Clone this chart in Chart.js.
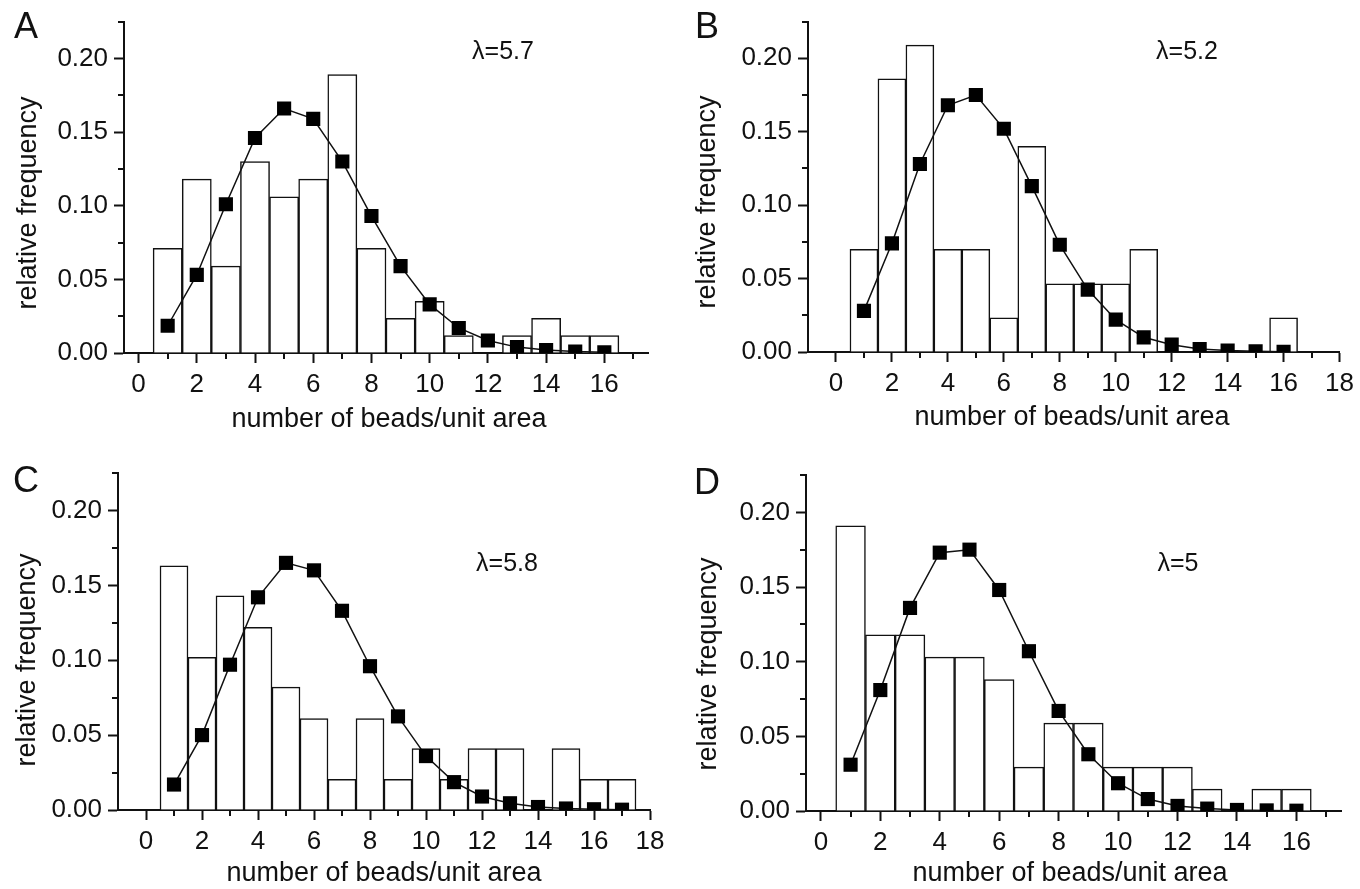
<!DOCTYPE html>
<html>
<head>
<meta charset="utf-8">
<script src="https://cdn.jsdelivr.net/npm/chart.js@4.4.0/dist/chart.umd.min.js"></script>
<style>
  body { margin: 0; background: #fff; }
  #fig { position: relative; width: 1360px; height: 889px; font-family: 'Liberation Sans', Arial, sans-serif; color: #111; }
  .panel { position: absolute; }
  .txt { position: absolute; white-space: nowrap; transform: translate(-50%, -50%); }
  .ytitle { transform: translate(-50%, -50%) rotate(-90deg); }
  .letter { font-size: 36px; line-height: 1; }
  .lam { font-size: 25px; }
  .axt { font-size: 27px; }
</style>
</head>
<body>
<div id="fig"></div>
<script>
// bins (number of beads per unit area)
const binsA = [1, 2, 3, 4, 5, 6, 7, 8, 9, 10, 11, 12, 13, 14, 15, 16];
const binsB = [1, 2, 3, 4, 5, 6, 7, 8, 9, 10, 11, 12, 13, 14, 15, 16];
const binsC = [1, 2, 3, 4, 5, 6, 7, 8, 9, 10, 11, 12, 13, 14, 15, 16, 17];
const binsD = [1, 2, 3, 4, 5, 6, 7, 8, 9, 10, 11, 12, 13, 14, 15, 16];

// observed relative frequency (histogram)
const histA = [0.071, 0.118, 0.059, 0.130, 0.106, 0.118, 0.189, 0.071, 0.0235, 0.035, 0.0118, 0, 0.0118, 0.0235, 0.0118, 0.0118];
const histB = [0.070, 0.186, 0.209, 0.070, 0.070, 0.0233, 0.140, 0.0465, 0.0465, 0.0465, 0.070, 0, 0, 0, 0, 0.0233];
const histC = [0.163, 0.102, 0.143, 0.122, 0.082, 0.061, 0.0204, 0.061, 0.0204, 0.041, 0.0204, 0.041, 0.041, 0, 0.041, 0.0204, 0.0204];
const histD = [0.191, 0.118, 0.118, 0.103, 0.103, 0.088, 0.0294, 0.0588, 0.0588, 0.0294, 0.0294, 0.0294, 0.0147, 0, 0.0147, 0.0147];

// poisson fit (squares)
const poisA = [0.0185, 0.053, 0.101, 0.146, 0.166, 0.159, 0.130, 0.093, 0.059, 0.033, 0.017, 0.0085, 0.004, 0.002, 0.001, 0.0005];
const poisB = [0.028, 0.074, 0.128, 0.168, 0.175, 0.152, 0.113, 0.073, 0.0425, 0.022, 0.010, 0.005, 0.002, 0.001, 0.0005, 0.0002];
const poisC = [0.017, 0.050, 0.097, 0.142, 0.165, 0.160, 0.133, 0.096, 0.0625, 0.036, 0.0186, 0.009, 0.0045, 0.002, 0.001, 0.0005, 0.0002];
const poisD = [0.031, 0.081, 0.136, 0.173, 0.175, 0.148, 0.107, 0.067, 0.038, 0.0186, 0.008, 0.0034, 0.0016, 0.0007, 0.0004, 0.0002];

// tick values
const xTicks16 = [0, 2, 4, 6, 8, 10, 12, 14, 16];
const xTicks18 = [0, 2, 4, 6, 8, 10, 12, 14, 16, 18];
const xMinor = [1, 3, 5, 7, 9, 11, 13, 15, 17];
const yTicks = [0, 0.05, 0.10, 0.15, 0.20];
const yMinor = [0.025, 0.075, 0.125, 0.175, 0.225];

const lambdas = ['λ=5.7', 'λ=5.2', 'λ=5.8', 'λ=5'];
const letters = ['A', 'B', 'C', 'D'];

const panels = [
  { bins: binsA, hist: histA, pois: poisA, xTicks: xTicks16, xMin: -0.5, xMax: 17.5,
    box: [0, 0, 680, 440], area: { left: 124, top: 17, right: 648, bottom: 353 },
    letter: [26, 26], lam: [503, 50], xt: [389, 418], yt: [27, 203] },
  { bins: binsB, hist: histB, pois: poisB, xTicks: xTicks18, xMin: -1, xMax: 18,
    box: [680, 0, 680, 440], area: { left: 128, top: 15, right: 660, bottom: 352 },
    letter: [707, 26], lam: [1187, 50], xt: [1072, 416], yt: [706, 202] },
  { bins: binsC, hist: histC, pois: poisC, xTicks: xTicks18, xMin: -1, xMax: 18,
    box: [0, 440, 680, 449], area: { left: 118, top: 33, right: 650, bottom: 370 },
    letter: [26, 480], lam: [507, 562], xt: [384, 872], yt: [26, 660] },
  { bins: binsD, hist: histD, pois: poisD, xTicks: xTicks16, xMin: -0.5, xMax: 17.5,
    box: [680, 440, 680, 449], area: { left: 126, top: 35, right: 661, bottom: 371 },
    letter: [707, 482], lam: [1178, 562], xt: [1070, 872], yt: [707, 664] }
];

const ink = '#111';
const tickFont = { family: "'Liberation Sans', Arial, sans-serif", size: 26 };

// short minor ticks on both axes
const minorTicks = {
  id: 'minorTicks',
  afterDraw(chart) {
    const { ctx, scales: { x, y } } = chart;
    ctx.save();
    ctx.strokeStyle = ink;
    ctx.lineWidth = 2;
    xMinor.forEach(v => {
      if (v > x.max) return;
      const px = Math.round(x.getPixelForValue(v));
      ctx.beginPath();
      ctx.moveTo(px, x.top);
      ctx.lineTo(px, x.top + 6);
      ctx.stroke();
    });
    yMinor.forEach(v => {
      const py = Math.round(y.getPixelForValue(v));
      ctx.beginPath();
      ctx.moveTo(y.right, py);
      ctx.lineTo(y.right - 6, py);
      ctx.stroke();
    });
    ctx.restore();
  }
};

const fig = document.getElementById('fig');

function addText(cls, text, pos) {
  const d = document.createElement('div');
  d.className = 'txt ' + cls;
  d.textContent = text;
  d.style.left = pos[0] + 'px';
  d.style.top = pos[1] + 'px';
  fig.appendChild(d);
}

panels.forEach((p, i) => {
  const wrap = document.createElement('div');
  wrap.className = 'panel';
  wrap.style.left = p.box[0] + 'px';
  wrap.style.top = p.box[1] + 'px';
  const cv = document.createElement('canvas');
  cv.width = p.box[2];
  cv.height = p.box[3];
  wrap.appendChild(cv);
  fig.appendChild(wrap);

  const barData = p.bins.map((b, k) => ({ x: b, y: p.hist[k] }));
  const lineData = p.bins.map((b, k) => ({ x: b, y: p.pois[k] }));

  new Chart(cv, {
    data: {
      datasets: [
        {
          type: 'line',
          data: lineData,
          borderColor: ink,
          borderWidth: 1.5,
          pointStyle: 'rect',
          pointRadius: 10,
          pointBackgroundColor: '#000',
          pointBorderColor: '#000',
          pointBorderWidth: 0,
          tension: 0,
          order: 0,
          clip: { left: 12, top: 12, right: 12, bottom: 0 }
        },
        {
          type: 'bar',
          data: barData,
          backgroundColor: '#fff',
          borderColor: ink,
          borderWidth: 1.5,
          barPercentage: 1,
          categoryPercentage: 1,
          order: 1
        }
      ]
    },
    options: {
      responsive: false,
      animation: false,
      events: [],
      layout: { padding: { left: 0, top: p.area.top, right: p.box[2] - p.area.right, bottom: 0 } },
      plugins: { legend: { display: false }, tooltip: { enabled: false } },
      scales: {
        x: {
          type: 'linear',
          min: p.xMin,
          max: p.xMax,
          offset: false,
          z: 1,
          afterBuildTicks: s => { s.ticks = p.xTicks.map(v => ({ value: v })); },
          afterFit: s => { s.height = p.box[3] - p.area.bottom; },
          grid: { offset: false, drawOnChartArea: false, tickLength: 10, tickColor: ink, tickWidth: 2 },
          border: { color: ink, width: 2 },
          ticks: { color: ink, font: tickFont, padding: 6, maxRotation: 0, autoSkip: false }
        },
        y: {
          min: 0,
          max: 0.225,
          z: 1,
          afterBuildTicks: s => { s.ticks = yTicks.map(v => ({ value: v })); },
          afterFit: s => { s.width = p.area.left; },
          grid: { drawOnChartArea: false, tickLength: 10, tickColor: ink, tickWidth: 2 },
          border: { color: ink, width: 2 },
          ticks: { color: ink, font: tickFont, padding: 6, callback: v => v.toFixed(2) }
        }
      }
    },
    plugins: [minorTicks]
  });

  addText('letter', letters[i], p.letter);
  addText('lam', lambdas[i], p.lam);
  addText('axt', 'number of beads/unit area', p.xt);
  addText('axt ytitle', 'relative frequency', p.yt);
});
</script>
</body>
</html>
